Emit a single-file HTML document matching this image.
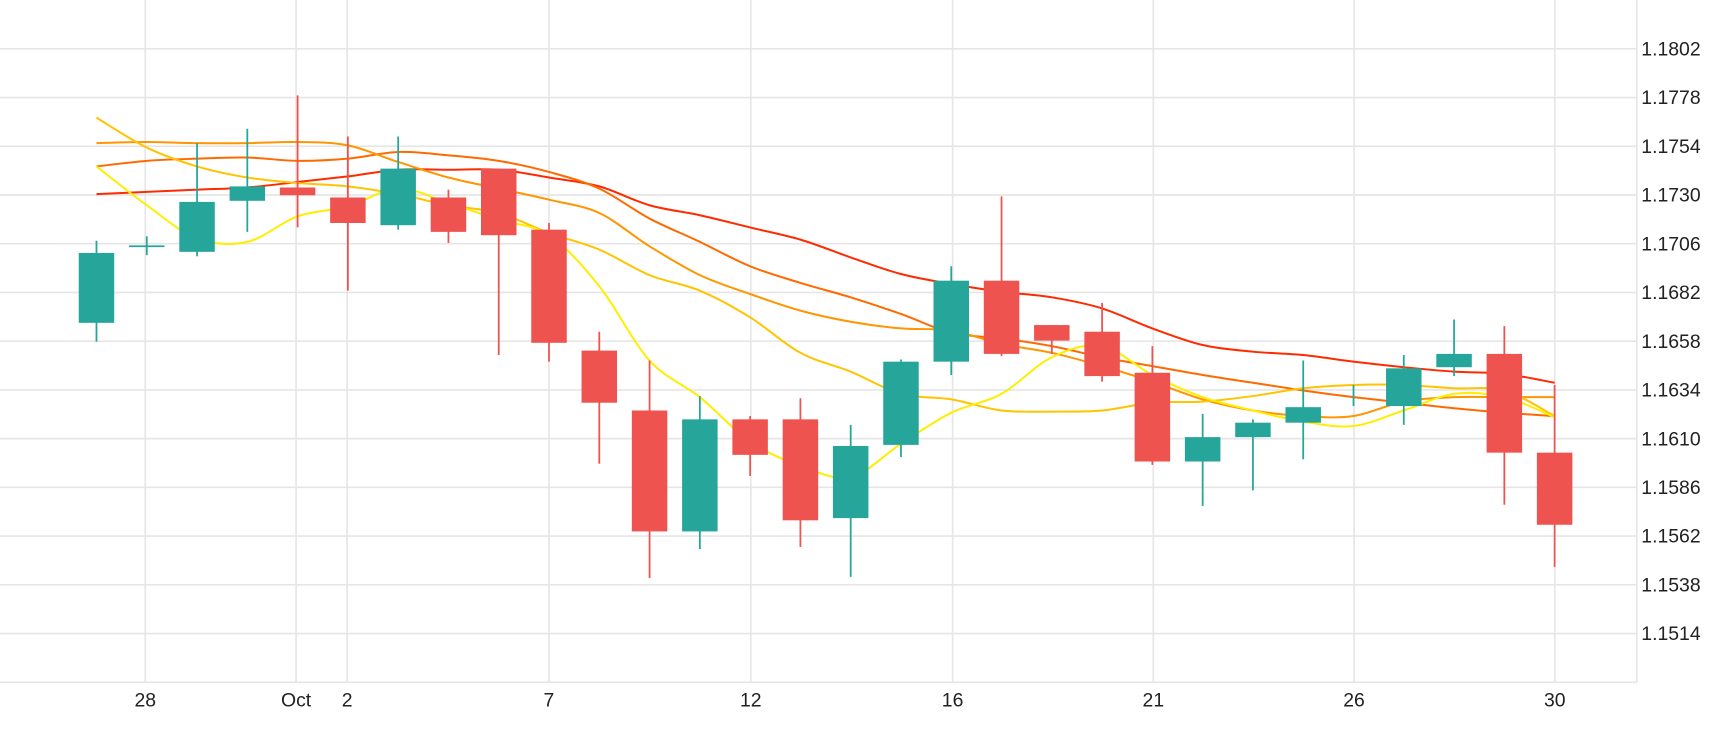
<!DOCTYPE html>
<html><head><meta charset="utf-8"><style>
html,body{margin:0;padding:0;background:#fff;}
svg{display:block;}
text{font-family:"Liberation Sans",sans-serif;font-size:17.5px;fill:#222;}
</style></head><body>
<svg id="c" width="1730" height="730" viewBox="0 0 1560 658" preserveAspectRatio="none" xmlns="http://www.w3.org/2000/svg">
<g id="grid" stroke="#e6e6e6" stroke-width="1.5" fill="none"></g>
<g id="axis"></g>
<g id="ma" fill="none" stroke-width="1.8" stroke-linejoin="round"></g>
<g id="cd"></g>
</svg>
<script>
var NS="http://www.w3.org/2000/svg";
function el(p,t,a,txt){var e=document.createElementNS(NS,t);for(var k in a)e.setAttribute(k,a[k]);if(txt)e.textContent=txt;document.getElementById(p).appendChild(e);return e;}
var labels=["1.1802","1.1778","1.1754","1.1730","1.1706","1.1682","1.1658","1.1634","1.1610","1.1586","1.1562","1.1538","1.1514"];
for(var i=0;i<13;i++){var y=44+i*43.92;el("grid","line",{x1:0,x2:1476,y1:y,y2:y});el("axis","text",{x:1480,y:y+6},labels[i]);}
el("grid","line",{x1:0,x2:1476,y1:615,y2:615});
el("grid","line",{x1:1476,x2:1476,y1:0,y2:615});
var vx=[[131,"28"],[267,"Oct"],[313,"2"],[495,"7"],[677,"12"],[859,"16"],[1040,"21"],[1221,"26"],[1402,"30"]];
vx.forEach(function(v){el("grid","line",{x1:v[0],x2:v[0],y1:0,y2:615});el("axis","text",{x:v[0],y:637,"text-anchor":"middle"},v[1]);});
var xs=[];for(var i=0;i<30;i++)xs.push(87+i*45.34);
function pl(col,ys){
 var P=ys.map(function(y,i){return [xs[i],y];});
 var d="M"+P[0][0]+","+P[0][1];
 for(var i=0;i<P.length-1;i++){
  var p0=P[Math.max(i-1,0)],p1=P[i],p2=P[i+1],p3=P[Math.min(i+2,P.length-1)];
  var c1x=p1[0]+(p2[0]-p0[0])/6,c1y=p1[1]+(p2[1]-p0[1])/6;
  var c2x=p2[0]-(p3[0]-p1[0])/6,c2y=p2[1]-(p3[1]-p1[1])/6;
  d+=" C"+c1x.toFixed(1)+","+c1y.toFixed(1)+" "+c2x.toFixed(1)+","+c2y.toFixed(1)+" "+p2[0].toFixed(1)+","+p2[1];
 }
 el("ma","path",{d:d,stroke:col});}
pl("#ff2a00",[175,173,171,169,164,159,153,153,153,160,168,185,194,205,216,232,247,256,263,268,278,296,311,317,320,326,331,335,337,345]);
pl("#ff6a00",[150,145,143,142,145,143,137,140,145,155,170,197,218,240,255,268,283,300,305,312,322,330,338,345,352,358,363,368,372,375]);
pl("#ff9500",[129,128,129,129,128,131,146,160,170,180,192,222,248,265,280,290,296,298,310,318,330,344,360,370,375,375,362,358,358,358]);
pl("#ffc400",[106,133,150,160,165,168,175,185,192,210,225,248,262,286,318,335,355,360,370,371,370,363,362,357,350,347,347,350,352,375]);
pl("#ffee00",[150,185,215,218,195,186,170,183,198,212,258,325,358,398,420,430,400,372,355,322,312,338,358,370,380,384,370,355,358,376]);
var G="#26a69a",R="#ef5350";
var C=[[G,228,291,217,308],["D",222,222,213,230],[G,182,227,129,231],[G,168,181,116,209],[R,169,176,86,205],[R,178,201,123,262],[G,152,203,123,207],[R,178,209,171,219],[R,152,212,152,320],[R,207,309,201,326],[R,316,363,299,418],[R,370,479,325,521],[G,378,479,357,495],[R,378,410,375,429],[R,378,469,359,493],[G,402,467,383,520],[G,326,401,324,412],[G,253,326,240,338],[R,253,319,177,321],[R,293,307,293,319],[R,299,339,273,344],[R,336,416,312,419],[G,394,416,373,456],[G,381,394,378,442],[G,367,381,325,414],["L",356,357,347,366],[G,332,366,320,383],[G,319,331,288,339],[R,319,408,294,455],[R,408,473,347,511]];
C.forEach(function(c,i){var x=xs[i];var col=c[0];
 if(col=="D"){el("cd","line",{x1:x,x2:x,y1:c[3],y2:c[4],stroke:G,"stroke-width":1.6});el("cd","line",{x1:x-16,x2:x+16,y1:c[1],y2:c[1],stroke:G,"stroke-width":1.6});return;}
 if(col=="L"){el("cd","line",{x1:x,x2:x,y1:c[3],y2:c[4],stroke:G,"stroke-width":1.6});return;}
 el("cd","line",{x1:x,x2:x,y1:c[3],y2:c[4],stroke:col,"stroke-width":1.6});
 el("cd","rect",{x:x-16,y:c[1],width:32,height:Math.max(c[2]-c[1],2),fill:col});
});
</script>
</body></html>
